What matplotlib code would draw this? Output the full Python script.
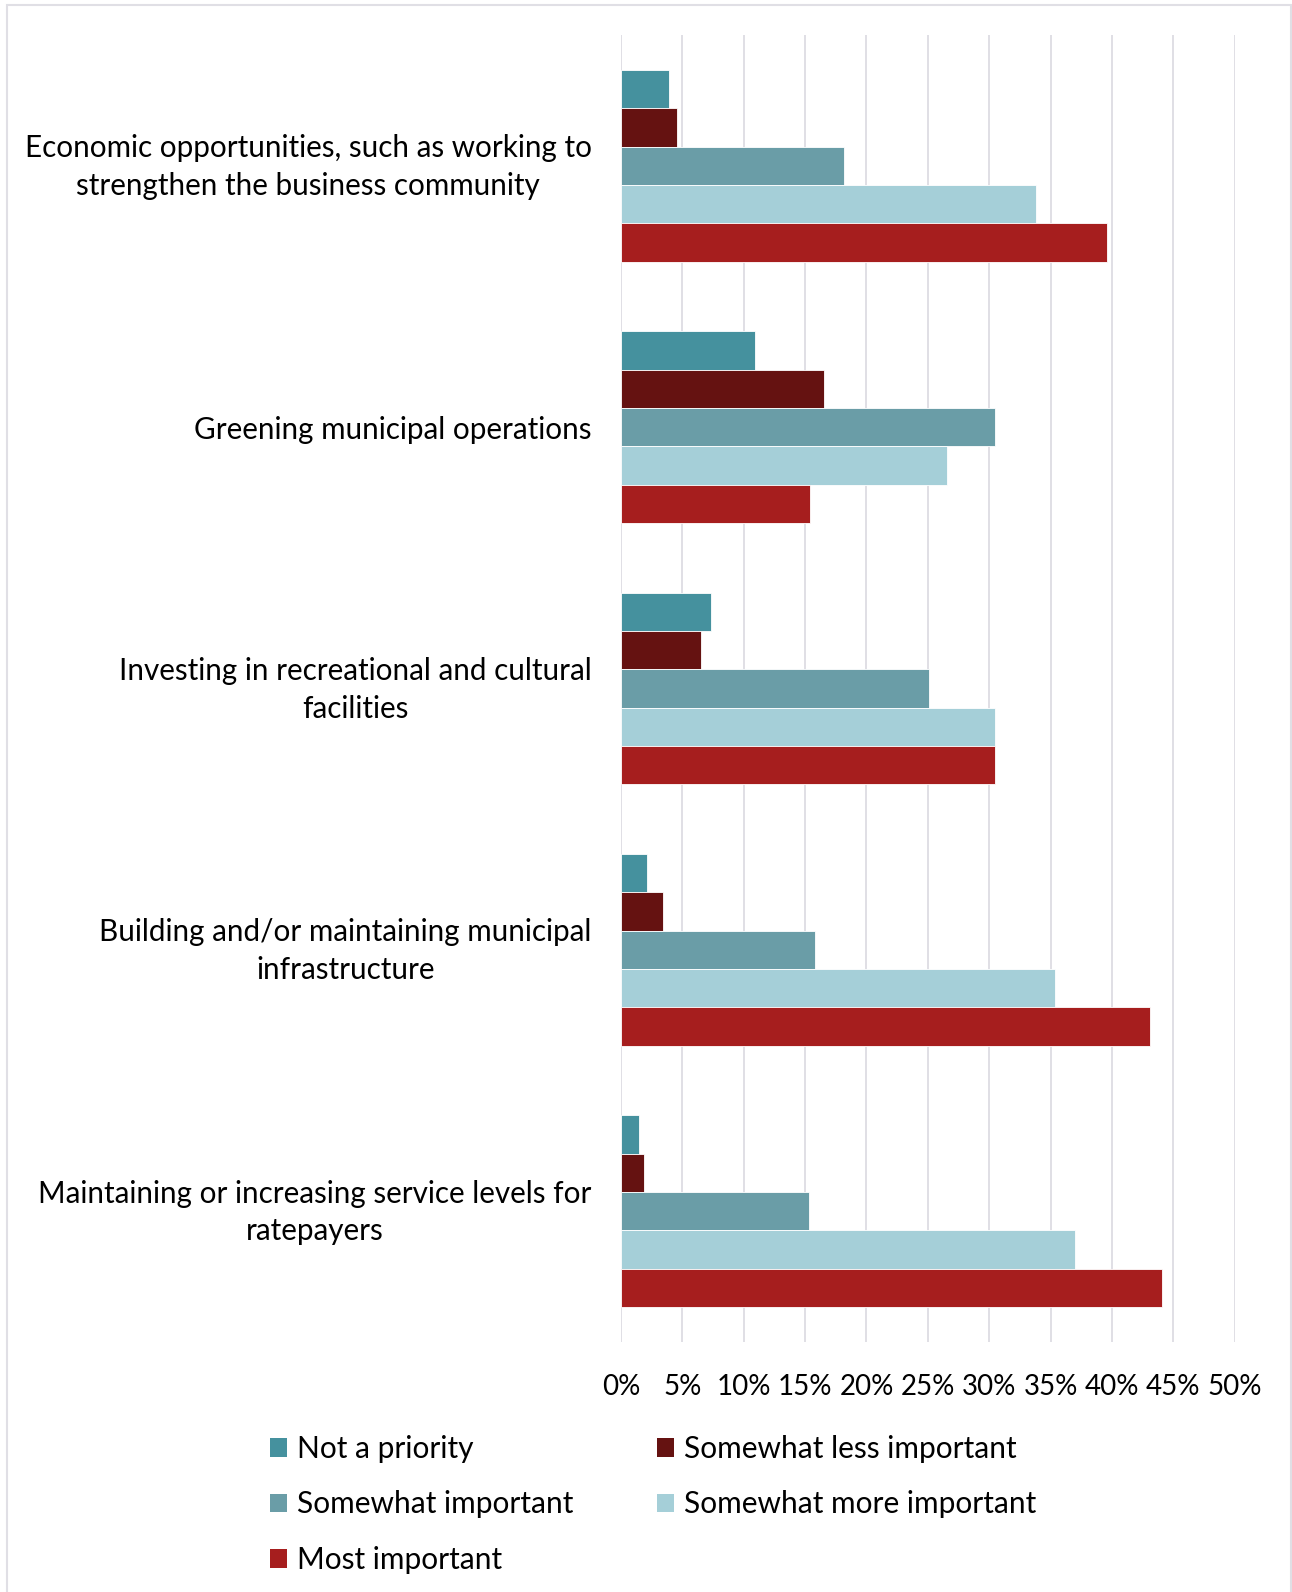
import matplotlib
matplotlib.use("Agg")
import matplotlib.pyplot as plt
import matplotlib.transforms as mtransforms
import numpy as np
from matplotlib.patches import Patch, Rectangle

plt.rcParams["font.family"] = ["Lato", "DejaVu Sans"]

categories = [
    "Economic opportunities, such as working to\nstrengthen the business community",
    "Greening municipal operations",
    "Investing in recreational and cultural\nfacilities",
    "Building and/or maintaining municipal\ninfrastructure",
    "Maintaining or increasing service levels for\nratepayers",
]
series_names = [
    "Not a priority",
    "Somewhat less important",
    "Somewhat important",
    "Somewhat more important",
    "Most important",
]
not_a_priority = [3.9, 10.9, 7.3, 2.1, 1.5]
somewhat_less = [4.6, 16.5, 6.5, 3.4, 1.9]
somewhat_important = [18.2, 30.5, 25.1, 15.8, 15.3]
somewhat_more = [33.8, 26.6, 30.5, 35.4, 37.0]
most_important = [39.6, 15.4, 30.5, 43.1, 44.1]
ticks = [0, 5, 10, 15, 20, 25, 30, 35, 40, 45, 50]

colors = ["#45919e", "#651211", "#6a9da7", "#a5cfd8", "#a61e1e"]
values = [not_a_priority, somewhat_less, somewhat_important, somewhat_more, most_important]

W, H = 1292, 1592
fig = plt.figure(figsize=(W / 100, H / 100), dpi=100)
ax = fig.add_axes([621 / W, 1 - 1342 / H, (1234.7 - 621) / W, (1342 - 35) / H])

y = np.arange(len(categories))
h = 0.1466
for j, (vals, col) in enumerate(zip(values, colors)):
    ax.barh(y + (j - 2) * h, vals, height=h, color=col,
            edgecolor="white", linewidth=0.6, zorder=3)

ax.set_ylim(len(categories) - 0.5, -0.5)
ax.set_xlim(0, 50)
ax.set_xticks(ticks)
ax.set_xticklabels([f"{t}%" for t in ticks], fontsize=20)
ax.tick_params(axis="x", length=0, pad=23)
ax.set_yticks(y)
ax.set_yticklabels(categories, fontsize=21.3, multialignment="center",
                   linespacing=1.42)
ax.tick_params(axis="y", length=0, pad=21)
# two-line labels sit a little low; nudge them up to centre on the group
nudge = mtransforms.ScaledTranslation(0, 6 / 100, fig.dpi_scale_trans)
for lbl in ax.get_yticklabels():
    if "\n" in lbl.get_text():
        lbl.set_transform(lbl.get_transform() + nudge)
ax.grid(axis="x", color="#dddce3", linewidth=1.3, zorder=0)
for s in ax.spines.values():
    s.set_visible(False)

handles = [Patch(facecolor=c, edgecolor="none") for c in colors]
order = [0, 2, 4, 1, 3]
fig.legend([handles[i] for i in order], [series_names[i] for i in order],
           ncol=2, loc="upper left", bbox_to_anchor=(270 / W, 1 - 1435 / H),
           frameon=False, fontsize=21.5, handlelength=0.58, handleheight=0.58,
           handletextpad=0.33, columnspacing=2.8, labelspacing=0.92,
           borderpad=0, borderaxespad=0)

# light frame around the chart area
fig.patches.append(Rectangle((7 / W, -0.01), (1291 - 7) / W, 1 - 5 / H + 0.01,
                             transform=fig.transFigure, fill=False,
                             edgecolor="#e0dfe5", linewidth=1.5))

fig.savefig("out.png", dpi=100)
